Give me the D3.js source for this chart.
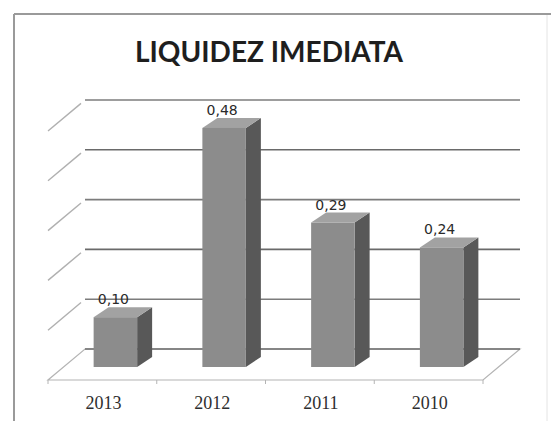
<!DOCTYPE html>
<html>
<head>
<meta charset="utf-8">
<script src="https://cdn.jsdelivr.net/npm/d3@7"></script>
<style>
  html, body { margin: 0; padding: 0; background: #fff; }
  svg { display: block; }
</style>
</head>
<body>
<svg id="chart" width="551" height="421"></svg>
<script>
// Liquidez imediata por ano
const categories = ["2013", "2012", "2011", "2010"];
const values = [0.10, 0.48, 0.29, 0.24];
const gridTicks = [0, 0.1, 0.2, 0.3, 0.4, 0.5];
const titleText = "LIQUIDEZ IMEDIATA";

const svg = d3.select("#chart");
const W = 551, H = 421;

// Portuguese number format (decimal comma)
const ptBR = d3.formatLocale({ decimal: ",", thousands: ".", grouping: [3], currency: ["R$", ""] });
const fmt = ptBR.format(".2f");

// Floor geometry (oblique 3D look)
const floorFront = { x0: 48, x1: 483, y: 380 };
const depth = { dx: 37, dy: -31 };

// Scales
const xCat = d3.scaleBand().domain(categories).range([floorFront.x0, floorFront.x1]).padding(0);
const xBar = d3.scaleBand().domain(categories).range([61, 496]).paddingInner(0.6).paddingOuter(0.3);
const yWall = d3.scaleLinear().domain([0, 0.5]).range([floorFront.y + depth.dy, 100]);
const yBar = d3.scaleLinear().domain([0, 0.5]).range([367, 367 - 249]);
const barDepth = { dx: 15, dy: -10 };

// Chart frame
svg.append("line").attr("x1", 14).attr("y1", 14).attr("x2", W).attr("y2", 14)
  .attr("stroke", "#9a9a9a").attr("stroke-width", 2);
svg.append("line").attr("x1", 14).attr("y1", 14).attr("x2", 14).attr("y2", H)
  .attr("stroke", "#9a9a9a").attr("stroke-width", 2);
svg.append("line").attr("x1", 547).attr("y1", 15).attr("x2", 547).attr("y2", H)
  .attr("stroke", "#e4e4e4").attr("stroke-width", 1);

// Title
svg.append("text")
  .attr("x", 269).attr("y", 62)
  .attr("text-anchor", "middle")
  .attr("font-family", "Lato, 'Open Sans', sans-serif")
  .attr("font-weight", "bold")
  .attr("font-size", 28)
  .attr("fill", "#1e1e1e")
  .attr("textLength", 268)
  .attr("lengthAdjust", "spacingAndGlyphs")
  .text(titleText);

// Floor outline
const floorPts = [
  [floorFront.x0, floorFront.y],
  [floorFront.x1, floorFront.y],
  [floorFront.x1 + depth.dx, floorFront.y + depth.dy],
  [floorFront.x0 + depth.dx, floorFront.y + depth.dy]
];
svg.append("path")
  .attr("d", d3.line()(floorPts) + "Z")
  .attr("fill", "none").attr("stroke", "#b4b4b4").attr("stroke-width", 1.2);

// Side-wall gridlines (left, diagonal)
svg.append("g").selectAll("line").data(gridTicks.slice(1)).join("line")
  .attr("x1", floorFront.x0).attr("y1", d => yWall(d) - depth.dy)
  .attr("x2", floorFront.x0 + depth.dx - 4).attr("y2", d => yWall(d) - depth.dy * 4 / depth.dx)
  .attr("stroke", "#b0b0b0").attr("stroke-width", 1.4);

// Back-wall gridlines
svg.append("g").selectAll("line").data(gridTicks).join("line")
  .attr("x1", floorFront.x0 + depth.dx).attr("x2", floorFront.x1 + depth.dx)
  .attr("y1", d => yWall(d)).attr("y2", d => yWall(d))
  .attr("stroke", (d, i) => i % 2 === 0 ? "#6a6a6a" : "#7c7c7c")
  .attr("stroke-width", 1.6);

// Category ticks on the floor's front edge
const tickXs = categories.map(c => xCat(c)).concat([floorFront.x1]);
svg.append("g").selectAll("line").data(tickXs).join("line")
  .attr("x1", d => d).attr("x2", d => d)
  .attr("y1", floorFront.y).attr("y2", floorFront.y + 4)
  .attr("stroke", "#b4b4b4").attr("stroke-width", 1);

// Bars (front, top and side faces)
const data = categories.map((c, i) => ({ cat: c, v: values[i] }));
const bars = svg.append("g").selectAll("g").data(data).join("g");
const bw = xBar.bandwidth();

bars.append("path") // side
  .attr("d", d => {
    const x = xBar(d.cat) + bw, yt = yBar(d.v), yb = yBar(0);
    return d3.line()([[x, yb], [x, yt], [x + barDepth.dx, yt + barDepth.dy], [x + barDepth.dx, yb + barDepth.dy]]) + "Z";
  })
  .attr("fill", "#585858");

bars.append("path") // top
  .attr("d", d => {
    const x = xBar(d.cat), yt = yBar(d.v);
    return d3.line()([[x, yt], [x + bw, yt], [x + bw + barDepth.dx, yt + barDepth.dy], [x + barDepth.dx, yt + barDepth.dy]]) + "Z";
  })
  .attr("fill", "#a2a2a2");

bars.append("rect") // front
  .attr("x", d => xBar(d.cat))
  .attr("y", d => yBar(d.v))
  .attr("width", bw)
  .attr("height", d => yBar(0) - yBar(d.v))
  .attr("fill", "#8c8c8c");

// Value labels
bars.append("text")
  .attr("x", d => xBar(d.cat) + bw / 2 - 2)
  .attr("y", d => yBar(d.v) - 13)
  .attr("text-anchor", "middle")
  .attr("font-family", "'DejaVu Sans', sans-serif")
  .attr("font-size", 14)
  .attr("fill", "#2a2a2a")
  .text(d => fmt(d.v));

// Category labels
svg.append("g").selectAll("text").data(categories).join("text")
  .attr("x", d => xCat(d) + xCat.bandwidth() / 2 + 1)
  .attr("y", 409)
  .attr("text-anchor", "middle")
  .attr("font-family", "'Liberation Serif', serif")
  .attr("font-size", 18)
  .attr("fill", "#2e2e2e")
  .text(d => d);
</script>
</body>
</html>
